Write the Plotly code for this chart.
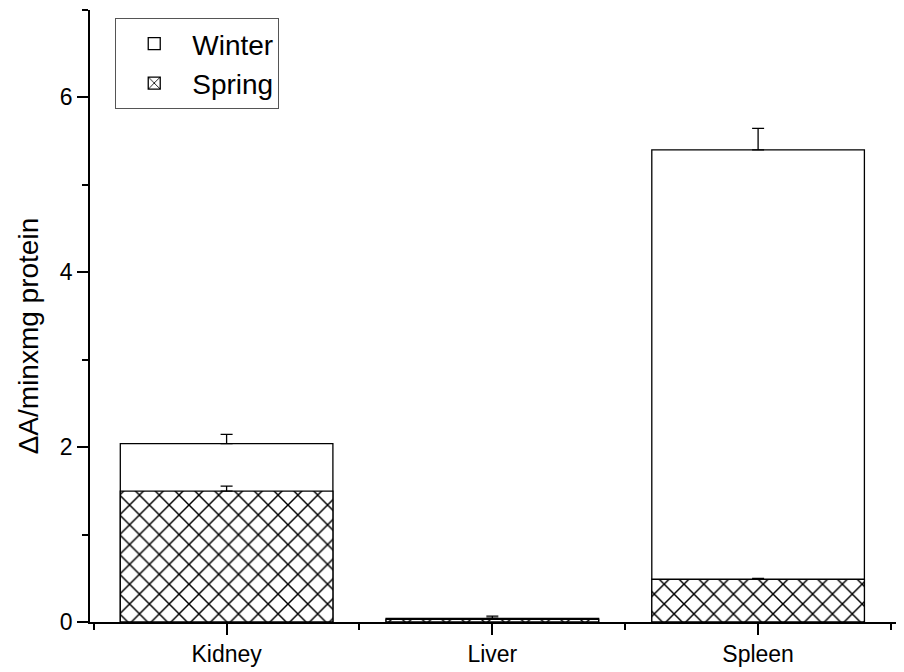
import plotly.graph_objects as go

tissues = ["Kidney", "Liver", "Spleen"]
winter = [2.04, 0.042, 5.40]
winter_err = [0.105, 0.025, 0.245]
spring = [1.497, 0.03, 0.489]
spring_err = [0.057, 0.01, 0.01]

xpos = [i + 1 for i in range(len(tissues))]
font = "Liberation Sans, Arial, sans-serif"

fig = go.Figure()
fig.add_trace(go.Bar(x=xpos, y=winter, name="Winter", width=0.8,
                     marker=dict(color="white", line=dict(color="black", width=1.3)),
                     error_y=dict(type="data", array=winter_err, arrayminus=[0] * 3, symmetric=False,
                                  color="black", thickness=1.3, width=6)))
fig.add_trace(go.Bar(x=xpos, y=spring, name="Spring", width=0.8,
                     marker=dict(color="white", line=dict(color="black", width=1.3),
                                 pattern=dict(shape="x", fgcolor="black", bgcolor="white", fgopacity=1,
                                              size=14, solidity=0.2)),
                     error_y=dict(type="data", array=spring_err, arrayminus=[0] * 3, symmetric=False,
                                  color="black", thickness=1.3, width=6)))

# y title as annotation, sits a bit below the plot centre like the original
fig.add_annotation(text="ΔA/minxmg protein", xref="paper", yref="paper", x=-0.076, y=0.467,
                   textangle=-90, showarrow=False, xanchor="center", yanchor="middle",
                   font=dict(size=28))

# the page body adds an 8px offset, margins below account for it
fig.update_layout(
    width=904, height=672, barmode="overlay",
    margin=dict(l=82, r=8, t=2, b=58),
    paper_bgcolor="white", plot_bgcolor="white",
    font=dict(family=font, size=23, color="black"),
    showlegend=True,
    legend=dict(x=0.031, y=0.987, xanchor="left", yanchor="top", bordercolor="#555", borderwidth=1,
                font=dict(size=28), bgcolor="white", itemwidth=66, tracegroupgap=0),
    xaxis=dict(range=[0.486, 3.549], tickvals=xpos, ticktext=tissues, showline=True, linecolor="black",
               linewidth=1.6, ticks="outside", ticklen=11, tickwidth=1.5, tickcolor="black",
               showgrid=False, zeroline=False, automargin=False,
               minor=dict(tick0=0.5, dtick=1, ticks="outside", ticklen=6, tickwidth=1.5, tickcolor="black")),
    yaxis=dict(range=[0, 7], dtick=2, showline=True, linecolor="black", linewidth=1.6,
               ticks="outside", ticklen=11, tickwidth=1.5, tickcolor="black",
               showgrid=False, zeroline=False, automargin=False,
               minor=dict(dtick=1, ticks="outside", ticklen=6, tickwidth=1.5, tickcolor="black")),
)

fig.write_html("out.html")
